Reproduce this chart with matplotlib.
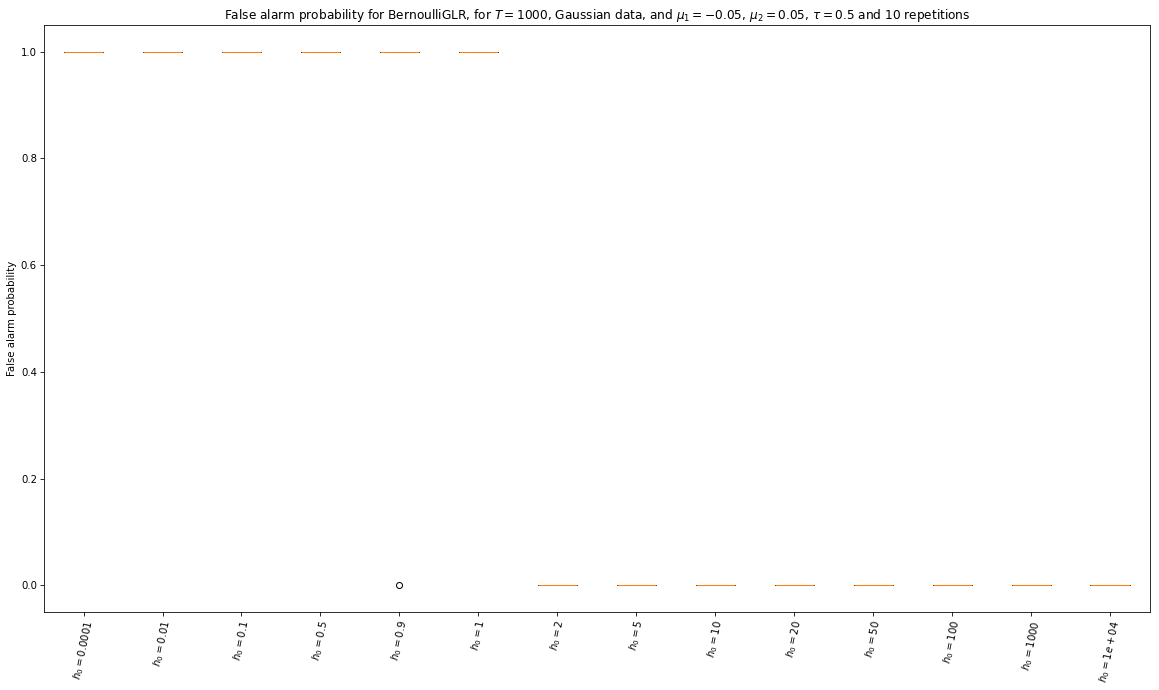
import matplotlib
matplotlib.use("Agg")
import matplotlib.pyplot as plt
import numpy as np

thresholds = ["0.0001", "0.01", "0.1", "0.5", "0.9", "1", "2", "5", "10", "20", "50", "100", "1000", "1e+04"]
# False alarm outcomes over 10 repetitions for each threshold
n_ones = [10, 10, 10, 10, 9, 10, 0, 0, 0, 0, 0, 0, 0, 0]
n_reps = 10

data = [np.array([1.0] * k + [0.0] * (n_reps - k)) for k in n_ones]
labels = [r"$h_0 = %s$" % t for t in thresholds]

DPI = 72.5
fig = plt.figure(figsize=(1159 / DPI, 690 / DPI), dpi=DPI)
ax = fig.add_axes([0.038, 0.113, 0.954, 0.851])
ax.boxplot(data)
ax.set_xticks(range(1, len(labels) + 1))
ax.set_xticklabels(labels, rotation=78)
ax.set_ylabel("False alarm probability")
ax.set_title(r"False alarm probability for BernoulliGLR, for $T=1000$, Gaussian data, and $\mu_1=-0.05$, $\mu_2=0.05$, $\tau=0.5$ and $10$ repetitions")
fig.savefig("out.png", dpi=DPI)
